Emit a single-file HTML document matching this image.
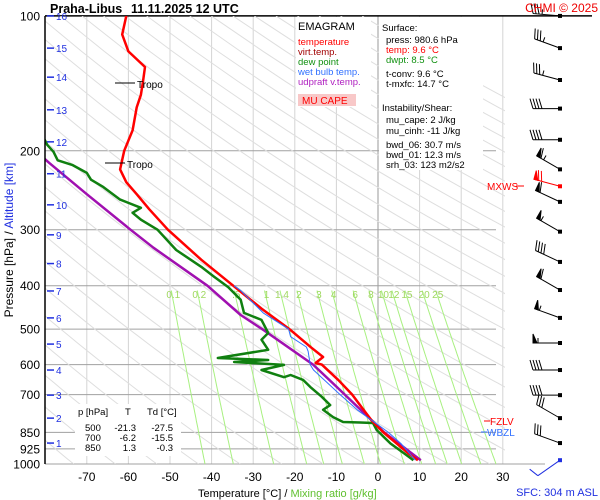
<!DOCTYPE html>
<html><head><meta charset="utf-8"><style>
body{margin:0;background:#fff;}
svg{display:block;font-family:"Liberation Sans",sans-serif;}
</style></head><body>
<svg id="c" width="600" height="500" viewBox="0 0 600 500" xmlns="http://www.w3.org/2000/svg">
<defs><clipPath id="pc"><rect x="45" y="16" width="460" height="448"/></clipPath></defs>
<g id="grid"></g>
<g id="adiab" clip-path="url(#pc)"></g>
<g id="mix"></g>
<g id="prof" clip-path="url(#pc)"></g>
<g id="axes"></g>
<g id="winds"></g>
<g id="txt">
<text y="13" font-size="12.5" font-weight="bold"><tspan x="50">Praha-Libus</tspan><tspan x="131">11.11.2025 12 UTC</tspan></text>
<text x="598" y="12" font-size="12" fill="#e00" text-anchor="end">CHMI © 2025</text>
<rect x="296" y="17" width="75" height="90" fill="#fff"/>
<text x="298" y="30" font-size="11">EMAGRAM</text>
<text x="298" y="45" font-size="9.5" fill="#ff0000">temperature</text>
<text x="298" y="55" font-size="9.5" fill="#a00000">virt.temp.</text>
<text x="298" y="65" font-size="9.5" fill="#109010">dew point</text>
<text x="298" y="75" font-size="9.5" fill="#3070ff">wet bulb temp.</text>
<text x="298" y="85" font-size="9.5" fill="#b020c0">udpraft v.temp.</text>
<rect x="298" y="94" width="58" height="12" fill="#f8c8c8"/>
<text x="302" y="104" font-size="10" fill="#ff0000">MU CAPE</text>
<rect x="379" y="17" width="104" height="153" fill="#fff"/>
<g font-size="9.5">
<text x="382" y="31">Surface:</text>
<text x="386" y="43">press: 980.6 hPa</text>
<text x="386" y="53" fill="#ff0000">temp: 9.6 °C</text>
<text x="386" y="63" fill="#109010">dwpt: 8.5 °C</text>
<text x="386" y="77">t-conv: 9.6 °C</text>
<text x="386" y="87">t-mxfc: 14.7 °C</text>
<text x="382" y="111">Instability/Shear:</text>
<text x="386" y="123">mu_cape: 2 J/kg</text>
<text x="386" y="134">mu_cinh: -11 J/kg</text>
<text x="386" y="148">bwd_06: 30.7 m/s</text>
<text x="386" y="158">bwd_01: 12.3 m/s</text>
<text x="386" y="168">srh_03: 123 m2/s2</text>
</g>
<rect x="75" y="404" width="106" height="52" fill="#fff"/>
<g font-size="9.5">
<text x="78" y="415">p [hPa]</text><text x="125" y="415">T</text><text x="147" y="415">Td [°C]</text>
<text x="85" y="431">500</text><text x="136" y="431" text-anchor="end">-21.3</text><text x="173" y="431" text-anchor="end">-27.5</text>
<text x="85" y="441">700</text><text x="136" y="441" text-anchor="end">-6.2</text><text x="173" y="441" text-anchor="end">-15.5</text>
<text x="85" y="451">850</text><text x="136" y="451" text-anchor="end">1.3</text><text x="173" y="451" text-anchor="end">-0.3</text>
</g>
<text x="198" y="497" font-size="11">Temperature [°C]  /  <tspan fill="#60c030">Mixing ratio [g/kg]</tspan></text>
<text x="598" y="496" font-size="11" fill="#2030e0" text-anchor="end">SFC: 304 m ASL</text>
<text transform="translate(13,240) rotate(-90)" font-size="12" text-anchor="middle">Pressure [hPa]  /  <tspan fill="#2030e0">Altitude [km]</tspan></text>
<line x1="484" y1="421" x2="490" y2="421" stroke="#f00"/>
<text x="490" y="425" font-size="10" fill="#f00">FZLV</text>
<line x1="481" y1="432" x2="487" y2="432" stroke="#3070ff"/>
<text x="487" y="436" font-size="10" fill="#3070ff">WBZL</text>
<text x="487" y="190" font-size="10" fill="#f00">MXWS</text>
<line x1="516" y1="186" x2="524" y2="186" stroke="#f00"/>
<line x1="115" y1="83" x2="135" y2="83" stroke="#000"/>
<text x="137" y="88" font-size="10">Tropo</text>
<line x1="105" y1="163" x2="125" y2="163" stroke="#000"/>
<text x="127" y="168" font-size="10">Tropo</text>
</g>
</svg>
<script>
const pressTicks=[100,200,300,400,500,600,700,850,925,1000];
const tempTicks=[-70,-60,-50,-40,-30,-20,-10,0,10,20,30];
const altKm=[1,2,3,4,5,6,7,8,9,10,11,12,13,14,15,16];
const altPress=[898,790,702,617,540,472,411,357,308,264,225,191,162,137,118,100];
const mixRatios=[0.1,0.2,0.5,1,1.4,2,3,4,6,8,10,12,15,20,25];
const tempP=[980.6,950,900,850,800,750,700,650,600,595,577,550,500,450,400,350,300,270,250,235,220,200,180,160,150,140,130,120,110,100];
const tempT=[9.6,7.5,4.5,1.3,-1.5,-3.8,-6.2,-9.5,-13.5,-15,-13.2,-16,-21.3,-28,-34.8,-42.5,-50.5,-55,-58,-60.5,-62,-61,-59,-58,-57,-56.5,-56,-60,-61.5,-60.5];
const dewP=[980.6,950,900,840,810,808,806,786,757,739,708,673,649,633,640,617,601,592,586,580,556,528,510,477,460,430,403,382,363,333,300,285,275,268,257,241,232,224,215,210,201,194,186];
const dewT=[8.5,6.5,3,-0.3,-1.2,-4.3,-8.4,-10.8,-13.2,-11.5,-13.5,-16.3,-18,-21,-22.6,-28,-22.6,-34.6,-26.4,-38.5,-26.4,-28,-26.4,-28,-32.2,-33,-36,-39.4,-42.5,-48.5,-53,-57,-59,-57,-62,-66,-69,-70,-73.5,-77,-78,-79.5,-80.5];
const wbP=[980.6,900,850,757,700,617,600,560,548,520,500,460,410,400];
const wbT=[9,5.5,2.5,-5,-9.1,-15.5,-16.3,-16.8,-17.2,-21,-21.5,-27.6,-33,-34.6];
const parP=[980.6,850,684,600,503,465,400,329,300,250,213,205];
const parT=[10.3,1.5,-9.1,-15.6,-27.4,-33,-41,-54,-59.5,-70,-79,-81];
const windP=[100,118,139,161,189,220,240,260,303,354,409,472,537,617,702,790,898,980.6];
const windDir=[275,290,285,270,270,300,285,295,300,295,300,290,270,270,270,300,290,235];
const windKt=[35,35,35,40,40,65,70,60,55,40,60,55,55,40,40,30,30,10];

const NS="http://www.w3.org/2000/svg";
const X=t=>378+t*4.16;
const Y=p=>464-194.6*Math.log(1000/p);
function el(tag,attrs,parent){const e=document.createElementNS(NS,tag);for(const k in attrs)e.setAttribute(k,attrs[k]);parent.appendChild(e);return e;}
const grid=document.getElementById('grid'),axes=document.getElementById('axes'),adiab=document.getElementById('adiab'),mix=document.getElementById('mix'),prof=document.getElementById('prof'),winds=document.getElementById('winds');

tempTicks.forEach(t=>{
  const l=el('line',{x1:X(t),x2:X(t),y1:16,y2:464,stroke:t===0?'#999':'#d4d4d4','stroke-width':1},grid);
  
  
  const tx=el('text',{x:X(t),y:481,'font-size':12,'text-anchor':'middle'},axes);tx.textContent=t;
  
  
});
pressTicks.forEach(p=>{
  const l=el('line',{x1:45,x2:p===1000?545:(p===100?592:496),y1:Y(p),y2:Y(p),stroke:p===100?'#000':'#a0a0a0','stroke-width':p===100?1.5:1},grid);
  
  
  const tx=el('text',{x:40,y:Y(p)+4.5,'font-size':12,'text-anchor':'end'},axes);tx.textContent=p;
  
  
});
const ax=el('line',{x1:45,x2:45,y1:16,y2:464,stroke:'#000','stroke-width':1.5},axes);


altKm.forEach((k,i)=>{
  const y=Y(altPress[i]);
  const l=el('line',{x1:47,x2:54,y1:y,y2:y,stroke:'#2030e0','stroke-width':1.5},axes);
  
  
  const tx=el('text',{x:56,y:y+4,'font-size':10,fill:'#2030e0'},axes);tx.textContent=k;
  
  
});
for(let th=200;th<=520;th+=10){
  let pts=[];for(let p=100;p<=1000;p+=20){pts.push(X(th*Math.pow(p/1000,0.2857)-273.15).toFixed(1)+','+Y(p).toFixed(1));}
  const l=el('polyline',{points:pts.join(' '),fill:'none',stroke:'#dedede','stroke-width':1},adiab);
  
  
}
function tdFromW(w,p){const e=w*p/(622+w);const a=Math.log(e/6.112);return 243.5*a/(17.67-a);}
mixRatios.forEach(w=>{
  let pts=[];for(let p=410;p<=1000;p+=10)pts.push(X(tdFromW(w,p)).toFixed(1)+','+Y(p).toFixed(1));
  const l=el('polyline',{points:pts.join(' '),fill:'none',stroke:'#a8f080','stroke-width':1},mix);
  
  
  const tx=el('text',{x:X(tdFromW(w,410))+2,y:298,'font-size':10,fill:'#a0d860','text-anchor':'middle'},mix);
  tx.textContent=(w===0.5?'.5':w);
  
  
});
function line(P,T,color,w,name){
  const pts=P.map((p,i)=>X(T[i]).toFixed(1)+','+Y(p).toFixed(1)).join(' ');
  const l=el('polyline',{points:pts,fill:'none',stroke:color,'stroke-width':w,'stroke-linejoin':'round'},prof);
  
  
}
line(parP,parT,'#a010b0',2.5,'updraft-line');
line(dewP,dewT,'#108010',2.5,'dewpoint-line');
line(tempP,tempT,'#ff0000',2.5,'temperature-line');
line(wbP,wbT,'#3070ff',1,'wet-bulb-line');
windP.forEach((p,i)=>{
  const bx=560,by=Y(p),last=i===windP.length-1;
  const col=last?'#2030e0':(p===240?'#ff0000':'#000');
  const a=(windDir[i])*Math.PI/180;
  const dx=Math.sin(a),dy=-Math.cos(a);
  const L=27,ex=bx+dx*L,ey=by+dy*L;
  const g=el('g',{stroke:col,fill:col,'stroke-width':1},winds);
  
  
  el('line',{x1:bx,y1:by,x2:ex,y2:ey},g);
  el('rect',{x:bx-2,y:by-2,width:4,height:4,stroke:'none'},g);
  const px=-dy,py=dx;
  let s=windKt[i],pos=0;
  while(s>=50){const x0=ex-dx*pos,y0=ey-dy*pos;el('polygon',{points:`${x0},${y0} ${x0+px*9},${y0+py*9} ${x0-dx*4},${y0-dy*4}`},g);pos+=5;s-=50;}
  while(s>=10){const x0=ex-dx*pos,y0=ey-dy*pos;el('line',{x1:x0,y1:y0,x2:x0+px*10+dx*3,y2:y0+py*10+dy*3},g);pos+=3;s-=10;}
  if(s>=5){const x0=ex-dx*pos,y0=ey-dy*pos;el('line',{x1:x0,y1:y0,x2:x0+px*5,y2:y0+py*5},g);}
});
</script>
</body></html>
